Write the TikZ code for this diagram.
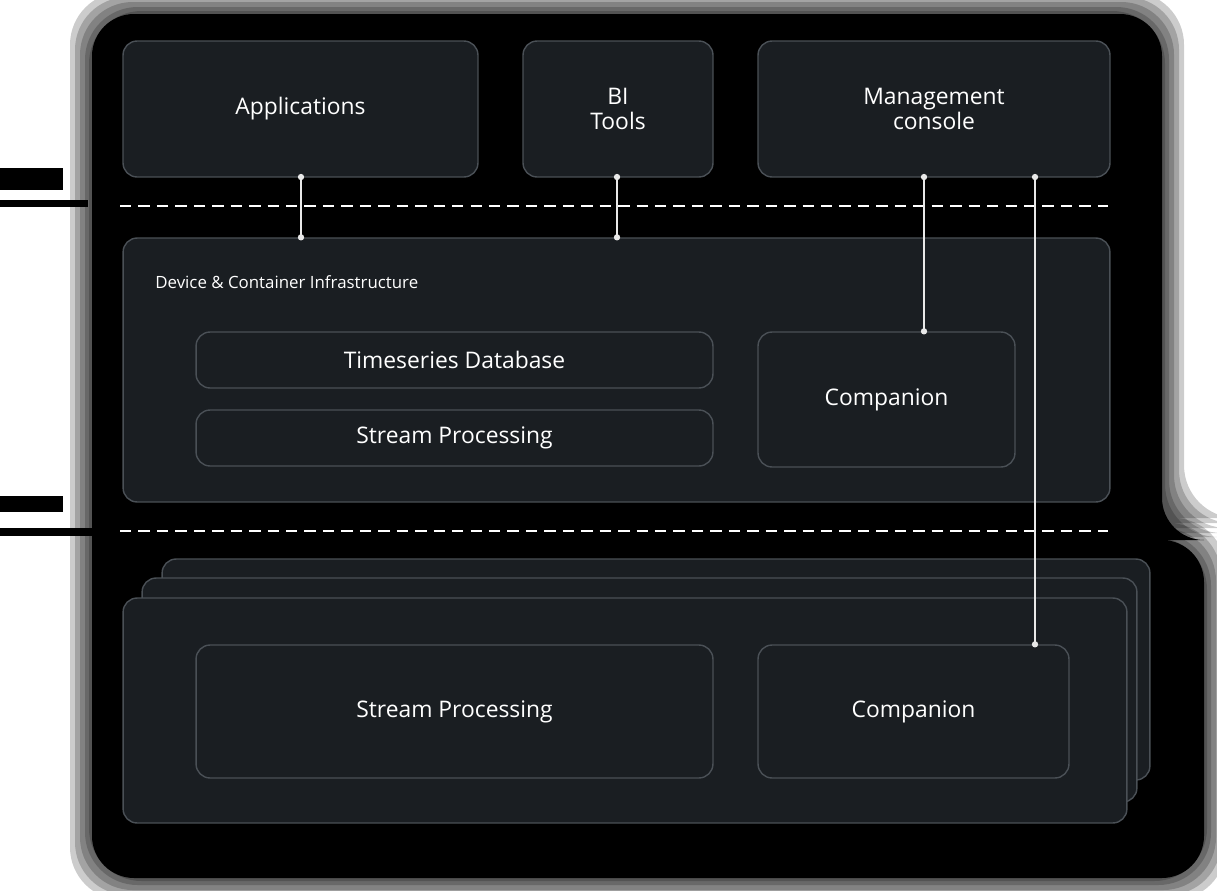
\documentclass[tikz,border=0pt]{standalone}
\usepackage{fontspec}
\setmainfont{Open Sans}
\usetikzlibrary{positioning}
\definecolor{boxfill}{HTML}{1A1E22}
\definecolor{boxline}{HTML}{4A5056}
\definecolor{wirecol}{HTML}{E8E8E8}
\begin{document}
\begin{tikzpicture}[x=0.02cm,y=-0.02cm,
		box/.style={draw=boxline,line width=0.8pt,fill=boxfill,rounded corners=8pt,text=white,font=\fontsize{13}{13.8}\selectfont,align=center,inner sep=0pt},
		wire/.style={draw=wirecol,line width=0.7pt},
		sep/.style={draw=white,line width=1.1pt,dash pattern=on 6.5pt off 4pt}]
	\useasboundingbox[fill=white] (0,0) rectangle (1217,890);
	
	% glow behind everything
	\foreach \d in {22,17,12,7,3}{
		\fill[black,opacity=0.2,rounded corners=30pt] (92-\d,14-\d) -- (1162+\d,14-\d) -- (1162+\d,540-\d) -- (1204+\d,540-\d) -- (1204+\d,878+\d) -- (92-\d,878+\d) -- cycle;
	}
	\fill[black,rounded corners=24pt] (92,14) -- (1162,14) -- (1162,540) -- (1204,540) -- (1204,878) -- (92,878) -- cycle;
	\fill[black] (0,168) rectangle (63,190);
	\fill[black] (0,200) rectangle (88,207);
	\fill[black] (0,496) rectangle (63,512);
	\fill[black] (0,528) rectangle (95,536);
	
	% top row
	\node[box,minimum width=7.1cm,minimum height=2.72cm] (apps) at (300.5,109) {Applications};
	\node[box,minimum width=3.8cm,minimum height=2.72cm] (bi) at (618,109) {BI\\Tools};
	\node[box,minimum width=7.04cm,minimum height=2.72cm] (mgmt) at (934,109) {Management\\console};
	
	\draw[sep] (120,206) -- (1108,206);
	
	% device layer
	\node[box,minimum width=19.74cm,minimum height=5.28cm] (infra) at (616.5,370) {};
	\node[anchor=base west,text=white,font=\fontsize{9.6}{11}\selectfont,inner sep=0pt] (infralabel) at (155,288) {Device \& Container Infrastructure};
	\node[box,minimum width=10.34cm,minimum height=1.12cm] (tsdb) at (454.5,360) {Timeseries Database};
	\node[box,minimum width=10.34cm,minimum height=1.12cm] (stream) at (454.5,438) {Stream Processing};
	\node[box,minimum width=5.14cm,minimum height=2.7cm] (comp) at (886.5,399.5) {Companion};
	
	\draw[sep] (120,531) -- (1108,531);
	
	% edge stack
	\node[box,minimum width=19.76cm,minimum height=4.42cm] (edgeback) at (656,669.5) {};
	\node[box,minimum width=19.9cm,minimum height=4.48cm] (edgemid) at (639.5,690) {};
	\node[box,minimum width=20.08cm,minimum height=4.5cm] (edge) at (625,710.5) {};
	\node[box,minimum width=10.34cm,minimum height=2.66cm] (edgestream) at (454.5,711.5) {Stream Processing};
	\node[box,minimum width=6.22cm,minimum height=2.66cm] (edgecomp) at (913.5,711.5) {Companion};
	
	% links
	\coordinate (appsout) at (301,177);
	\coordinate (biout) at (617,177);
	\coordinate (mgmtout) at (924,177);
	\coordinate (mgmtedge) at (1035,177);
	\draw[wire] (appsout) -- (appsout |- infra.north);
	\draw[wire] (biout) -- (biout |- infra.north);
	\draw[wire] (mgmtout) -- (mgmtout |- comp.north);
	\draw[wire] (mgmtedge) -- (mgmtedge |- edgecomp.north);
	\foreach \p in {appsout,biout,mgmtout,mgmtedge}{
		\fill[wirecol] (\p) circle (1.8pt);
	}
	\fill[wirecol] (appsout |- infra.north) circle (1.8pt);
	\fill[wirecol] (biout |- infra.north) circle (1.8pt);
	\fill[wirecol] (mgmtout |- comp.north) circle (1.8pt);
	\fill[wirecol] (mgmtedge |- edgecomp.north) circle (1.8pt);
\end{tikzpicture}
\end{document}
